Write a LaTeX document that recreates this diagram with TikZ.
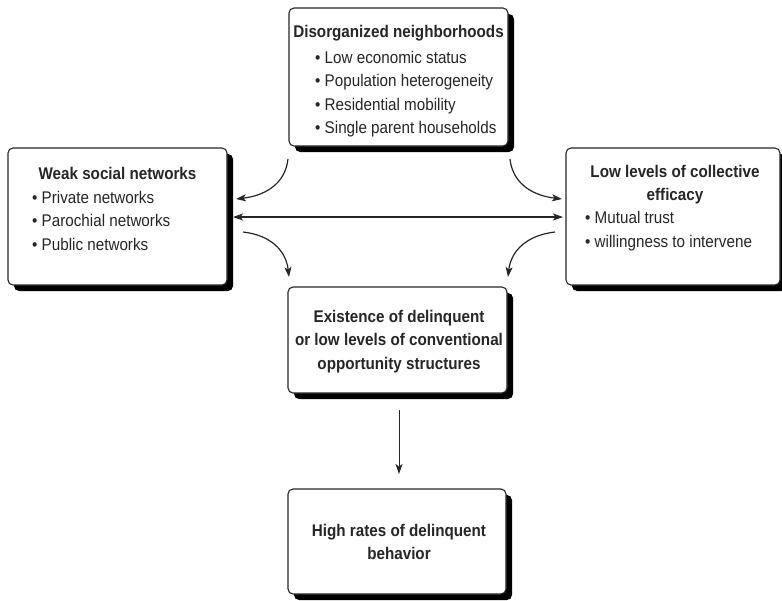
\documentclass[tikz,border=0pt]{standalone}
\usepackage{fontspec}
\setmainfont{Liberation Sans}[FakeStretch=0.9]
\usetikzlibrary{arrows.meta,shadows}
\tikzset{
  box/.style={draw=black!85, line width=1.1pt, rounded corners=5pt, fill=white,
    inner sep=0pt, outer sep=0pt,
    drop shadow={shadow xshift=6pt, shadow yshift=-6pt, fill=black, opacity=1}},
  ttl/.style={font=\fontsize{16.9}{23.7}\selectfont\bfseries, text=black!85, inner sep=0pt, align=center},
  lst/.style={font=\fontsize{16.9}{23.5}\selectfont, text=black!85, inner sep=0pt, align=left, anchor=west},
  arr/.style={line width=1.2pt, draw=black!85, -{Stealth[length=10pt,width=7pt,inset=2.5pt]}}
}
\begin{document}
\begin{tikzpicture}[x=1pt,y=-1pt]
\useasboundingbox (0,0) rectangle (782,600);
% boxes
\node[box, minimum width=219pt, minimum height=138pt] (top) at (398.5,77) {};
\node[box, minimum width=219pt, minimum height=137pt] (left) at (117.5,216.5) {};
\node[box, minimum width=214pt, minimum height=137pt] (right) at (673,216.5) {};
\node[box, minimum width=219pt, minimum height=106pt] (mid) at (397.5,340) {};
\node[box, minimum width=218pt, minimum height=105pt] (bot) at (397,541.5) {};
% texts
\node[ttl] (topt) at (398.5,33.5) {Disorganized neighborhoods};
\node[lst] (topl) at (315,94) {• Low economic status\\• Population heterogeneity\\• Residential mobility\\• Single parent households};
\node[ttl] (leftt) at (117.5,173) {Weak social networks};
\node[lst] (leftl) at (32,220.5) {• Private networks\\• Parochial networks\\• Public networks};
\node[ttl] (rightt) at (675,184.5) {Low levels of collective\\efficacy};
\node[lst] (rightl) at (585,231) {• Mutual trust\\• willingness to intervene};
\node[ttl] (midt) at (399,341.5) {Existence of delinquent\\or low levels of conventional\\opportunity structures};
\node[ttl] (bott) at (399,542) {High rates of delinquent\\behavior};
% connector endpoints
\coordinate (a1) at (288,159);
\coordinate (a2) at (236,199);
\coordinate (b1) at (510,159);
\coordinate (b2) at (562,199);
\coordinate (c1) at (243,232);
\coordinate (c2) at (289,277);
\coordinate (d1) at (555,232);
\coordinate (d2) at (508,277);
\coordinate (h1) at (233,217);
\coordinate (h2) at (563,217);
\coordinate (v1) at (399,410);
\coordinate (v2) at (399,474);
% connectors
\draw[arr] (a1) .. controls (285,186) and (262,196) .. (a2);
\draw[arr] (b1) .. controls (513,186) and (536,196) .. (b2);
\draw[arr] (c1) .. controls (270,235) and (286,250) .. (c2);
\draw[arr] (d1) .. controls (528,235) and (511,250) .. (d2);
\draw[arr, {Stealth[length=10pt,width=7pt,inset=2.5pt]}-{Stealth[length=10pt,width=7pt,inset=2.5pt]}] (h1) -- (h2);
\draw[arr, line width=1pt] (v1) -- (v2);
\end{tikzpicture}
\end{document}
